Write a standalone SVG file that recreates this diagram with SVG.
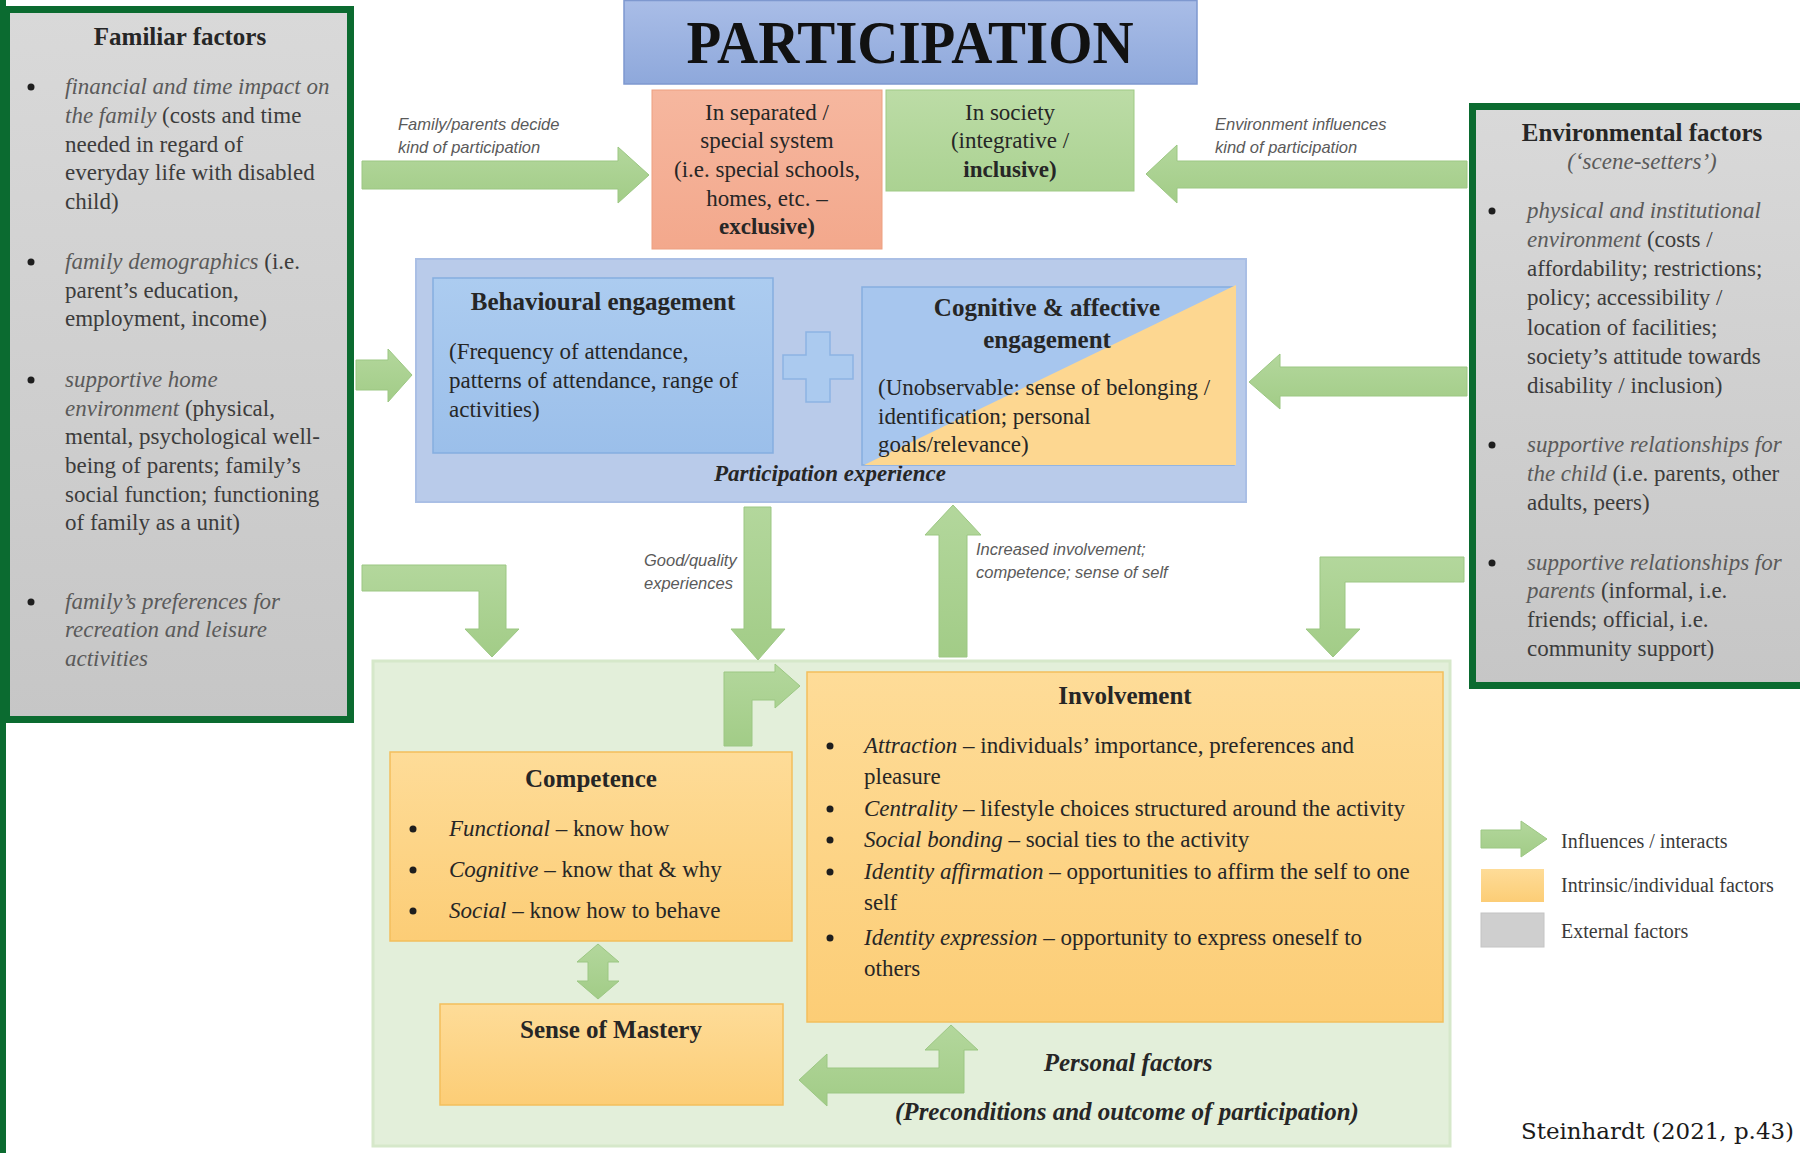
<svg xmlns="http://www.w3.org/2000/svg" width="1800" height="1153" viewBox="0 0 1800 1153">
<style>
text{font-family:"Liberation Serif","Times New Roman",serif;fill:#262626}
.b{font-size:23px}
.t{font-size:25px;font-weight:bold}
.i{font-style:italic}
.g{fill:#3c3c3c}
.gi{font-style:italic;fill:#5a5a5a}
.lab{font-family:"Liberation Sans",Arial,sans-serif;font-style:italic;font-size:16.5px;fill:#5a5a5a}
.bi{font-weight:bold;font-style:italic}
.arrow{fill:url(#gArrow);stroke:#9cc783;stroke-width:1}
.dot{fill:#1e1e1e}
.orange{fill:url(#gOrange);stroke:#f3bf5c;stroke-width:1.5}
.gray{fill:url(#gGray);stroke:#0b6b30;stroke-width:7}
.leg{font-size:20px;fill:#3a3a3a}
</style>
<defs>
<linearGradient id="gArrow" x1="0" y1="0" x2="0" y2="1"><stop offset="0" stop-color="#b3d79c"/><stop offset="1" stop-color="#a2cc87"/></linearGradient>
<linearGradient id="gOrange" x1="0" y1="0" x2="0" y2="1"><stop offset="0" stop-color="#fedc98"/><stop offset="1" stop-color="#fccd76"/></linearGradient>
<linearGradient id="gGray" x1="0" y1="0" x2="0" y2="1"><stop offset="0" stop-color="#d9d9d9"/><stop offset="1" stop-color="#c6c6c6"/></linearGradient>
<linearGradient id="gPart" x1="0" y1="0" x2="0" y2="1"><stop offset="0" stop-color="#a9bde7"/><stop offset="1" stop-color="#8ea8db"/></linearGradient>
<linearGradient id="gRed" x1="0" y1="0" x2="0" y2="1"><stop offset="0" stop-color="#f6b79f"/><stop offset="1" stop-color="#f3a88c"/></linearGradient>
<linearGradient id="gGreen" x1="0" y1="0" x2="0" y2="1"><stop offset="0" stop-color="#bcdca6"/><stop offset="1" stop-color="#abd292"/></linearGradient>
<linearGradient id="gBlue" x1="0" y1="0" x2="0" y2="1"><stop offset="0" stop-color="#acccf0"/><stop offset="1" stop-color="#9bbfea"/></linearGradient>
</defs>
<rect x="0" y="0" width="1800" height="1153" fill="#ffffff"/>
<rect x="0" y="0" width="6" height="1153" fill="#0b6b30"/>

<g id="familiar-factors">
<rect class="gray" x="6.5" y="9.5" width="344" height="710"/>
<text class="t" x="180" y="45" font-size="24" text-anchor="middle">Familiar factors</text>
<g class="b">
<circle class="dot" cx="31" cy="87" r="3.5"/>
<text x="65" y="94"><tspan class="gi">financial and time impact on</tspan></text>
<text x="65" y="123"><tspan class="gi">the family</tspan><tspan class="g"> (costs and time</tspan></text>
<text class="g" x="65" y="152">needed in regard of</text>
<text class="g" x="65" y="180">everyday life with disabled</text>
<text class="g" x="65" y="209">child)</text>
<circle class="dot" cx="31" cy="262" r="3.5"/>
<text x="65" y="269"><tspan class="gi">family demographics</tspan><tspan class="g"> (i.e.</tspan></text>
<text class="g" x="65" y="298">parent’s education,</text>
<text class="g" x="65" y="326">employment, income)</text>
<circle class="dot" cx="31" cy="380" r="3.5"/>
<text x="65" y="387"><tspan class="gi">supportive home</tspan></text>
<text x="65" y="416"><tspan class="gi">environment</tspan><tspan class="g"> (physical,</tspan></text>
<text class="g" x="65" y="444">mental, psychological well-</text>
<text class="g" x="65" y="473">being of parents; family’s</text>
<text class="g" x="65" y="502">social function; functioning</text>
<text class="g" x="65" y="530">of family as a unit)</text>
<circle class="dot" cx="31" cy="602" r="3.5"/>
<text x="65" y="609"><tspan class="gi">family’s preferences for</tspan></text>
<text x="65" y="637"><tspan class="gi">recreation and leisure</tspan></text>
<text x="65" y="666"><tspan class="gi">activities</tspan></text>
</g>
</g>

<g id="participation">
<rect x="624" y="0.5" width="573" height="83.5" fill="url(#gPart)" stroke="#7e98cf" stroke-width="1.5"/>
<text x="910" y="63" font-size="62" font-weight="bold" text-anchor="middle" style="fill:#111" textLength="447" lengthAdjust="spacingAndGlyphs">PARTICIPATION</text>
</g>

<g id="separated-system">
<rect x="652" y="90" width="230" height="159" fill="url(#gRed)" stroke="#eda080" stroke-width="1"/>
<g class="b" text-anchor="middle">
<text x="767" y="120">In separated /</text>
<text x="767" y="148">special system</text>
<text x="767" y="177">(i.e. special schools,</text>
<text x="767" y="206">homes, etc. –</text>
<text x="767" y="234" font-weight="bold">exclusive)</text>
</g>
</g>

<g id="in-society">
<rect x="886" y="90" width="248" height="101" fill="url(#gGreen)" stroke="#9fca85" stroke-width="1"/>
<g class="b" text-anchor="middle">
<text x="1010" y="120">In society</text>
<text x="1010" y="148">(integrative /</text>
<text x="1010" y="177" font-weight="bold">inclusive)</text>
</g>
</g>

<g id="environmental-factors">
<rect class="gray" x="1472.5" y="106.5" width="340" height="579"/>
<text class="t" x="1642" y="141" font-size="24" text-anchor="middle">Environmental factors</text>
<text class="b gi" x="1642" y="169" text-anchor="middle">(‘scene-setters’)</text>
<g class="b">
<circle class="dot" cx="1492" cy="211" r="3.5"/>
<text x="1527" y="218"><tspan class="gi">physical and institutional</tspan></text>
<text x="1527" y="247"><tspan class="gi">environment</tspan><tspan class="g"> (costs /</tspan></text>
<text class="g" x="1527" y="276">affordability; restrictions;</text>
<text class="g" x="1527" y="305">policy; accessibility /</text>
<text class="g" x="1527" y="335">location of facilities;</text>
<text class="g" x="1527" y="364">society’s attitude towards</text>
<text class="g" x="1527" y="393">disability / inclusion)</text>
<circle class="dot" cx="1492" cy="445" r="3.5"/>
<text x="1527" y="452"><tspan class="gi">supportive relationships for</tspan></text>
<text x="1527" y="481"><tspan class="gi">the child</tspan><tspan class="g"> (i.e. parents, other</tspan></text>
<text class="g" x="1527" y="510">adults, peers)</text>
<circle class="dot" cx="1492" cy="563" r="3.5"/>
<text x="1527" y="570"><tspan class="gi">supportive relationships for</tspan></text>
<text x="1527" y="598"><tspan class="gi">parents</tspan><tspan class="g"> (informal, i.e.</tspan></text>
<text class="g" x="1527" y="627">friends; official, i.e.</text>
<text class="g" x="1527" y="656">community support)</text>
</g>
</g>

<g id="participation-experience">
<rect x="416" y="259" width="830" height="243" fill="#b9cbea" stroke="#aabfe5" stroke-width="2"/>
<text class="bi" x="830" y="481" font-size="23" text-anchor="middle">Participation experience</text>
</g>

<g id="behavioural-engagement">
<rect x="433" y="278" width="340" height="175" fill="url(#gBlue)" stroke="#85aee0" stroke-width="1.5"/>
<text class="t" x="603" y="310" font-size="24" text-anchor="middle">Behavioural engagement</text>
<g class="b">
<text x="449" y="359">(Frequency of attendance,</text>
<text x="449" y="388">patterns of attendance, range of</text>
<text x="449" y="417">activities)</text>
</g>
</g>

<g id="plus">
<path d="M806,332 H830 V355 H853 V379 H830 V402 H806 V379 H783 V355 H806 Z" fill="#abcaef" stroke="#8db4e3" stroke-width="1.5"/>
</g>

<g id="cognitive-affective-engagement">
<rect x="862" y="287" width="372" height="178" fill="#a7c6ee" stroke="#86aee0" stroke-width="1.5"/>
<polygon points="864,465 1236,285 1236,465" fill="#fdd791"/>
<text class="t" x="1047" y="316" font-size="24" text-anchor="middle">Cognitive &amp; affective</text>
<text class="t" x="1047" y="348" font-size="24" text-anchor="middle">engagement</text>
<g class="b">
<text x="878" y="395">(Unobservable: sense of belonging /</text>
<text x="878" y="424">identification; personal</text>
<text x="878" y="452">goals/relevance)</text>
</g>
</g>

<g id="personal-factors">
<rect x="373" y="661" width="1077" height="485" fill="#e3efda" stroke="#d6e8ca" stroke-width="3"/>
<text class="bi" x="1128" y="1071" font-size="25" text-anchor="middle">Personal factors</text>
<text class="bi" x="1127" y="1120" font-size="25" text-anchor="middle">(Preconditions and outcome of participation)</text>
</g>

<g id="involvement">
<rect class="orange" x="807" y="672" width="636" height="350"/>
<text class="t" x="1125" y="704" text-anchor="middle">Involvement</text>
<g class="b">
<circle class="dot" cx="830" cy="746" r="3.5"/>
<text x="864" y="753"><tspan class="i">Attraction</tspan> – individuals’ importance, preferences and</text>
<text x="864" y="784">pleasure</text>
<circle class="dot" cx="830" cy="809" r="3.5"/>
<text x="864" y="816"><tspan class="i">Centrality</tspan> – lifestyle choices structured around the activity</text>
<circle class="dot" cx="830" cy="840" r="3.5"/>
<text x="864" y="847"><tspan class="i">Social bonding</tspan> – social ties to the activity</text>
<circle class="dot" cx="830" cy="872" r="3.5"/>
<text x="864" y="879"><tspan class="i">Identity affirmation</tspan> – opportunities to affirm the self to one</text>
<text x="864" y="910">self</text>
<circle class="dot" cx="830" cy="938" r="3.5"/>
<text x="864" y="945"><tspan class="i">Identity expression</tspan> – opportunity to express oneself to</text>
<text x="864" y="976">others</text>
</g>
</g>

<g id="competence">
<rect class="orange" x="390" y="752" width="402" height="189"/>
<text class="t" x="591" y="787" text-anchor="middle">Competence</text>
<g class="b">
<circle class="dot" cx="413" cy="829" r="3.5"/>
<text x="449" y="836"><tspan class="i">Functional</tspan> – know how</text>
<circle class="dot" cx="413" cy="870" r="3.5"/>
<text x="449" y="877"><tspan class="i">Cognitive</tspan> – know that &amp; why</text>
<circle class="dot" cx="413" cy="911" r="3.5"/>
<text x="449" y="918"><tspan class="i">Social</tspan> – know how to behave</text>
</g>
</g>

<g id="sense-of-mastery">
<rect class="orange" x="440" y="1004" width="343" height="101"/>
<text class="t" x="611" y="1038" text-anchor="middle">Sense of Mastery</text>
</g>

<g id="connectors">
<path class="arrow" d="M362,161 H618 V147 L649,175 L618,203 V189 H362 Z"/>
<path class="arrow" d="M1467,161 H1177 V145 L1146,174 L1177,203 V188 H1467 Z"/>
<path class="arrow" d="M356,360 H388 V349 L412,375 L388,402 V390 H356 Z"/>
<path class="arrow" d="M1467,367 H1280 V354 L1249,382 L1280,409 V396 H1467 Z"/>
<path class="arrow" d="M744,507 V629 H731 L758,660 L785,629 H771 V507 Z"/>
<path class="arrow" d="M939,657 V535 H925 L953,505 L981,535 H967 V657 Z"/>
<path class="arrow" d="M362,565 H506 V629 H519 L492,657 L465,629 H479 V591 H362 Z"/>
<path class="arrow" d="M1464,557 H1320 V629 H1306 L1333,657 L1360,629 H1345 V582 H1464 Z"/>
<path class="arrow" d="M724,746 V672 H775 V664 L800,686 L775,708 V700 H752 V746 Z"/>
<path class="arrow" d="M964,1093 H827 V1106 L799,1080 L827,1054 V1068 H939 V1050 H925 L951,1025 L978,1050 H964 Z"/>
<path class="arrow" d="M598,944 L619,962 H608 V981 H619 L598,999 L577,981 H588 V962 H577 Z"/>
<text class="lab" x="398" y="130">Family/parents decide</text>
<text class="lab" x="398" y="153">kind of participation</text>
<text class="lab" x="1215" y="130">Environment influences</text>
<text class="lab" x="1215" y="153">kind of participation</text>
<text class="lab" x="644" y="566">Good/quality</text>
<text class="lab" x="644" y="589">experiences</text>
<text class="lab" x="976" y="555">Increased involvement;</text>
<text class="lab" x="976" y="578">competence; sense of self</text>
</g>

<g id="legend">
<path class="arrow" d="M1481,830 H1521 V821 L1547,839 L1521,857 V848 H1481 Z"/>
<text class="leg" x="1561" y="848">Influences / interacts</text>
<rect x="1481" y="869" width="63" height="33" fill="url(#gOrange)"/>
<text class="leg" x="1561" y="892">Intrinsic/individual factors</text>
<rect x="1481" y="913" width="63" height="34" fill="#cfcfcf" stroke="#c4c4c4"/>
<text class="leg" x="1561" y="938">External factors</text>
</g>

<text x="1521" y="1139" font-size="22" style="font-family:'DejaVu Serif',serif;fill:#1a1a1a" textLength="273" lengthAdjust="spacingAndGlyphs">Steinhardt (2021, p.43)</text>
</svg>
